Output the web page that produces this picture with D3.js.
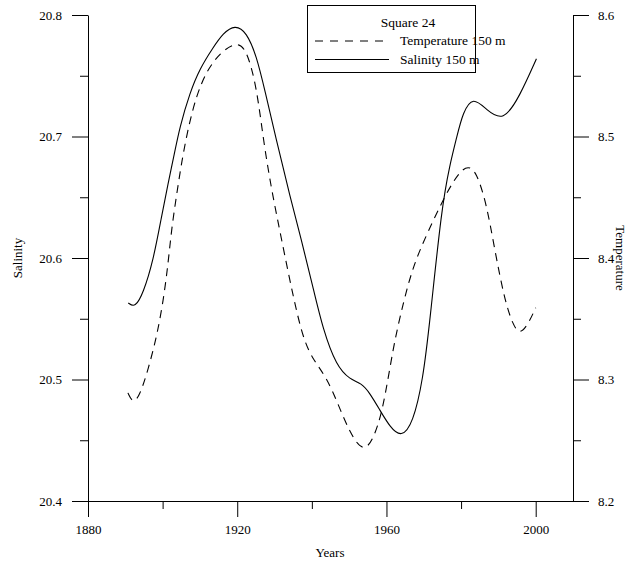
<!DOCTYPE html>
<html>
<head>
<meta charset="utf-8">
<script src="https://cdn.jsdelivr.net/npm/d3@7"></script>
<style>
  body { margin: 0; background: #fff; }
  svg { display: block; font-family: "Liberation Serif", "Times New Roman", serif; }
  .axis path, .axis line { stroke: #000; stroke-width: 1; }
  .axis text { font-size: 13px; fill: #000; font-family: "Liberation Serif", serif; }
</style>
</head>
<body>
<div id="chart"></div>
<script>
// Salinity 150 m (left axis)
const salYears = [1890.8, 1892.6, 1894.8, 1897.5, 1899.7, 1901.5, 1902.9, 1904.6, 1907.3, 1910, 1913.5,
  1916.2, 1919.4, 1922.5, 1925.2, 1927.4, 1930.5, 1933.7, 1937.2, 1940.3, 1943.0, 1946.6, 1950.2,
  1953.3, 1955.5, 1958.2, 1960.9, 1964.0, 1967.1, 1969.8, 1971.6, 1974.8, 1977.0, 1978.8, 1980.5,
  1983.2, 1986.8, 1991.3, 1995.7, 2000.2];
const salinity = [20.563, 20.559, 20.571, 20.598, 20.634, 20.662, 20.682, 20.708, 20.736, 20.756, 20.773,
  20.785, 20.792, 20.786, 20.766, 20.738, 20.697, 20.656, 20.615, 20.576, 20.541, 20.511, 20.500,
  20.497, 20.489, 20.475, 20.461, 20.452, 20.464, 20.500, 20.547, 20.642, 20.677, 20.699, 20.720,
  20.733, 20.722, 20.712, 20.733, 20.764];

// Temperature 150 m (right axis)
const tempYears = [1890.7, 1892.1, 1893.9, 1896.1, 1898.4, 1900.2, 1901.5, 1902.4, 1903.8, 1905.1, 1906.9,
  1909.1, 1911.8, 1915.4, 1919.8, 1922.5, 1925.2, 1927.0, 1929.2, 1931.9, 1935.0, 1937.7, 1940.4,
  1943.9, 1947.0, 1950.2, 1953.7, 1956.4, 1959.1, 1961.8, 1964.5, 1967.1, 1970.7, 1976.1, 1979.6,
  1981.9, 1984.1, 1986.8, 1989.0, 1991.7, 1993.9, 1995.7, 1997.9, 2000];
const temperature = [8.289, 8.280, 8.287, 8.308, 8.335, 8.365, 8.396, 8.424, 8.453, 8.479, 8.508,
  8.534, 8.554, 8.569, 8.578, 8.572, 8.541, 8.497, 8.456, 8.415, 8.368, 8.333, 8.316,
  8.302, 8.280, 8.256, 8.240, 8.250, 8.275, 8.327, 8.363, 8.393, 8.419, 8.454, 8.471,
  8.476, 8.471, 8.445, 8.407, 8.365, 8.345, 8.337, 8.345, 8.359];

const xMajor = [1880, 1920, 1960, 2000];
const xMinor = [1900, 1940, 1980];
const salMajor = [20.4, 20.5, 20.6, 20.7, 20.8];
const salMinor = [20.45, 20.55, 20.65, 20.75];
const tempMajor = [8.2, 8.3, 8.4, 8.5, 8.6];
const tempMinor = [8.25, 8.35, 8.45, 8.55];

const width = 637, height = 561;
const plotLeft = 88, plotRight = 573, plotTop = 15, plotBottom = 501;

const svg = d3.select('#chart').append('svg')
  .attr('width', width)
  .attr('height', height);

const x = d3.scaleLinear().domain([1880, 2010]).range([plotLeft, plotRight]);
const ySal = d3.scaleLinear().domain([20.4, 20.8]).range([plotBottom, plotTop]);
const yTemp = d3.scaleLinear().domain([8.2, 8.6]).range([plotBottom, plotTop]);

// Axes: major ticks with labels, minor ticks without
svg.append('g').attr('class', 'axis')
  .attr('transform', `translate(0,${plotBottom})`)
  .call(d3.axisBottom(x).tickValues(xMajor).tickSize(16).tickSizeOuter(0).tickPadding(8).tickFormat(d3.format('d')));
svg.append('g').attr('class', 'axis')
  .attr('transform', `translate(0,${plotBottom})`)
  .call(d3.axisBottom(x).tickValues(xMinor).tickSize(8).tickSizeOuter(0).tickFormat(''))
  .select('.domain').remove();

svg.append('g').attr('class', 'axis')
  .attr('transform', `translate(${plotLeft},0)`)
  .call(d3.axisLeft(ySal).tickValues(salMajor).tickSize(16).tickSizeOuter(0).tickPadding(10).tickFormat(d3.format('.1f')));
svg.append('g').attr('class', 'axis')
  .attr('transform', `translate(${plotLeft},0)`)
  .call(d3.axisLeft(ySal).tickValues(salMinor).tickSize(8).tickSizeOuter(0).tickFormat(''))
  .select('.domain').remove();

svg.append('g').attr('class', 'axis')
  .attr('transform', `translate(${plotRight},0)`)
  .call(d3.axisRight(yTemp).tickValues(tempMajor).tickSize(16).tickSizeOuter(0).tickPadding(9).tickFormat(d3.format('.1f')));
svg.append('g').attr('class', 'axis')
  .attr('transform', `translate(${plotRight},0)`)
  .call(d3.axisRight(yTemp).tickValues(tempMinor).tickSize(8).tickSizeOuter(0).tickFormat(''))
  .select('.domain').remove();

// Axis titles
svg.append('text')
  .attr('x', (plotLeft + plotRight) / 2 - 0.5).attr('y', 557)
  .attr('text-anchor', 'middle').attr('font-size', 13)
  .text('Years');
svg.append('text')
  .attr('transform', `translate(22,${(plotTop + plotBottom) / 2}) rotate(-90)`)
  .attr('text-anchor', 'middle').attr('font-size', 13)
  .text('Salinity');
svg.append('text')
  .attr('transform', `translate(616,${(plotTop + plotBottom) / 2}) rotate(90)`)
  .attr('text-anchor', 'middle').attr('font-size', 13)
  .text('Temperature');

// Curves (smoothed through the read points)
const salLine = d3.line()
  .x((d, i) => x(salYears[i]))
  .y(d => ySal(d))
  .curve(d3.curveBasis);
const tempLine = d3.line()
  .x((d, i) => x(tempYears[i]))
  .y(d => yTemp(d))
  .curve(d3.curveBasis);

svg.append('path')
  .datum(temperature)
  .attr('d', tempLine)
  .attr('fill', 'none')
  .attr('stroke', '#000')
  .attr('stroke-width', 1.1)
  .attr('stroke-dasharray', '8,6');

svg.append('path')
  .datum(salinity)
  .attr('d', salLine)
  .attr('fill', 'none')
  .attr('stroke', '#000')
  .attr('stroke-width', 1.1);

// Legend
const legend = svg.append('g');
legend.append('rect')
  .attr('x', 307.5).attr('y', 5.5)
  .attr('width', 168).attr('height', 67)
  .attr('fill', '#fff').attr('stroke', '#000');
legend.append('text')
  .attr('x', 408).attr('y', 27)
  .attr('text-anchor', 'middle').attr('font-size', 13.5)
  .text('Square 24');
legend.append('line')
  .attr('x1', 315).attr('x2', 389).attr('y1', 41).attr('y2', 41)
  .attr('stroke', '#000').attr('stroke-dasharray', '8,7');
legend.append('text')
  .attr('x', 400).attr('y', 45).attr('font-size', 13.5)
  .text('Temperature 150 m');
legend.append('line')
  .attr('x1', 315).attr('x2', 389).attr('y1', 59.5).attr('y2', 59.5)
  .attr('stroke', '#000');
legend.append('text')
  .attr('x', 400).attr('y', 64).attr('font-size', 13.5)
  .text('Salinity 150 m');
</script>
</body>
</html>
